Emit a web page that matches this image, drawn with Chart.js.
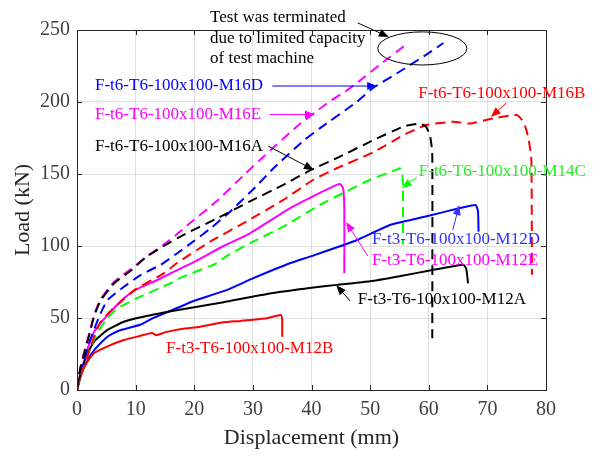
<!DOCTYPE html>
<html>
<head>
<meta charset="utf-8">
<script src="https://cdn.jsdelivr.net/npm/chart.js@4.4.1/dist/chart.umd.min.js"></script>
<style>
  html, body { margin: 0; padding: 0; background: #fff; }
</style>
</head>
<body>
<canvas id="myChart" width="593" height="459"></canvas>
<script>
// load-displacement curves (mm, kN)
const m16aX = [0, 0.5, 1.4, 2.2, 2.9, 4, 6.3, 9.2, 12, 14.8, 18.1, 23.8, 29.5, 35.2, 40, 44.3, 50.3, 55.7, 58.5, 59.5, 60.2, 60.6, 60.6];
const m16aY = [0, 14, 28, 40, 51, 62, 74, 83, 93, 100, 107.6, 119, 131, 142.5, 153, 161, 173, 183, 185, 183, 177, 165, 36];

const m16eX = [0, 0.5, 1.4, 2.2, 2.9, 4, 6.3, 9.2, 12, 14.8, 17, 19.3, 23.8, 28.4, 31.8, 37.5, 42.6, 46, 48.3, 52, 56.5];
const m16eY = [0, 14, 29, 41, 52, 63, 75, 84, 93, 101, 108, 116, 131, 149, 162, 183, 199, 208, 215, 227, 241];

const m16dX = [0, 0.5, 1, 2, 3, 4, 5.2, 8, 10.9, 14.3, 17.1, 19.8, 22.7, 26.1, 30.7, 33.5, 38.6, 41.4, 47.7, 50.5, 55, 60, 62.5];
const m16dY = [0, 10, 18, 32, 43, 53, 62.5, 71.7, 80, 87, 95, 103, 112, 123.8, 142, 154, 173, 181.7, 200, 209.7, 221, 234, 241];

const m16bX = [0, 0.5, 1, 2, 3, 4, 5.5, 7.4, 10, 14.8, 17, 22.7, 28.9, 35.2, 40.3, 44.3, 50.5, 55.7, 59.6, 64.2, 67, 71, 75, 76.2, 77, 77.5, 77.6];
const m16bY = [0, 8, 14, 26, 38, 47, 54, 61, 70, 81, 88, 103, 117, 132, 146, 154, 165, 177, 184, 186.3, 185, 188.6, 191, 186, 175, 160, 80];

const m14cX = [0, 0.5, 1, 2, 3, 4, 5.2, 7, 10.9, 15.9, 17.7, 23.8, 25.5, 29.5, 35.2, 41.4, 46, 50, 54.5, 55.1, 55.5, 55.6, 55.6];
const m14cY = [0, 8, 14, 26, 36, 43, 50, 57, 65, 74, 78, 88, 93, 102, 113.4, 128.5, 138, 146, 153, 154, 150, 140, 101];

const m12eX = [0, 0.5, 1, 2, 3, 5.2, 8, 10.2, 13.7, 17.7, 20, 25, 29.5, 36.3, 40, 44.3, 44.9, 45.4, 45.6, 45.6];
const m12eY = [0, 9, 17, 31, 41, 52, 63.7, 70, 76.4, 84.5, 89, 100, 108.8, 126.2, 134, 142.4, 143, 140, 125, 81];

const m12dX = [0, 0.5, 1, 2, 3, 5.2, 7, 10.9, 13, 17.7, 20, 25.5, 30, 36.3, 40, 47.7, 53.4, 60, 65, 68, 68.4, 68.5];
const m12dY = [0, 8, 14, 22, 28, 37, 41, 45.5, 50, 58, 62, 69.4, 77.5, 88, 93, 104, 114.6, 121, 126, 128.5, 124, 110];

const m12aX = [0, 0.5, 1, 2, 3, 5.2, 8, 10.9, 16.5, 20, 25, 32.9, 40, 44.3, 50, 55, 60.2, 65.9, 66.4, 66.6, 66.7];
const m12aY = [0, 10, 17, 27, 34, 41.7, 47.4, 50.5, 55, 57.5, 61, 67, 71, 73, 75.5, 79, 83, 87, 84, 78, 74];

const m12bX = [0, 0.5, 1, 2, 2.9, 4, 5.6, 8, 10.7, 12.8, 13.5, 15, 18, 21, 25, 28, 32.4, 34.8, 35, 35];
const m12bY = [0, 8, 14, 21, 25.5, 28, 31, 34.7, 37.5, 39.5, 38, 40, 42.5, 44, 47, 48, 49.8, 52, 48, 37];

const xTicks = [0, 10, 20, 30, 40, 50, 60, 70, 80];
const yTicks = [0, 50, 100, 150, 200, 250];

const serif = "'Liberation Serif', 'Times New Roman', serif";

function pts(xs, ys) {
  return xs.map((x, i) => ({ x: x, y: ys[i] }));
}

function series(label, xs, ys, color, dashed) {
  return {
    label: label,
    data: pts(xs, ys),
    borderColor: color,
    backgroundColor: color,
    borderWidth: 2,
    borderDash: dashed ? [10, 6] : [],
    pointRadius: 0,
    showLine: true,
    tension: 0.15,
    fill: false
  };
}

// labels and arrows, placed in data units
const notes = [
  { text: 'Test was terminated', x: 22.7, y: 258.7, color: '#000' },
  { text: 'due to limited capacity', x: 22.7, y: 244.3, color: '#000' },
  { text: 'of test machine', x: 22.7, y: 230, color: '#000' },
  { text: 'F-t6-T6-100x100-M16D', x: 3.07, y: 211.1, color: '#0000ff' },
  { text: 'F-t6-T6-100x100-M16E', x: 3.07, y: 191.3, color: '#ff00ff' },
  { text: 'F-t6-T6-100x100-M16A', x: 3.07, y: 169.4, color: '#000' },
  { text: 'F-t6-T6-100x100-M16B', x: 58.2, y: 206.2, color: '#ff0000' },
  { text: 'F-t6-T6-100x100-M14C', x: 58.3, y: 151.4, color: '#22ee22' },
  { text: 'F-t3-T6-100x100-M12D', x: 50.3, y: 104.2, color: '#3333ff' },
  { text: 'F-t3-T6-100x100-M12E', x: 50.3, y: 89.6, color: '#ff00ff' },
  { text: 'F-t3-T6-100x100-M12A', x: 47.9, y: 62.5, color: '#000' },
  { text: 'F-t3-T6-100x100-M12B', x: 15.2, y: 28.8, color: '#ff0000' }
];

const arrows = [
  { from: [47.9, 254.9], to: [53.2, 245.1], color: '#000' },
  { from: [33.3, 211.1], to: [51.2, 211.1], color: '#0000ff' },
  { from: [32.9, 191.3], to: [40.6, 191.3], color: '#ff00ff' },
  { from: [32.6, 169.4], to: [40.4, 152.8], color: '#000' },
  { from: [73.2, 199.3], to: [70.6, 189.6], color: '#ff0000' },
  { from: [58.0, 147.9], to: [55.4, 140.3], color: '#00ff00' },
  { from: [64.1, 111.1], to: [65.2, 128.5], color: '#3333ff' },
  { from: [49.6, 93.1], to: [45.9, 116.7], color: '#ff00ff' },
  { from: [46.6, 61.8], to: [44.2, 72.9], color: '#000' }
];

const ellipse = { x: 58.9, y: 237.2, rx: 7.6, ry: 11.5 };

const extras = {
  id: 'extras',
  afterDraw(chart) {
    const ctx = chart.ctx;
    const xs = chart.scales.x, ys = chart.scales.y;
    const a = chart.chartArea;
    ctx.save();

    // box with inward ticks
    ctx.strokeStyle = '#262626';
    ctx.lineWidth = 1;
    ctx.strokeRect(a.left + 0.5, a.top + 0.5, a.right - a.left, a.bottom - a.top);
    ctx.beginPath();
    xTicks.forEach(v => {
      const px = Math.round(xs.getPixelForValue(v)) + 0.5;
      ctx.moveTo(px, a.bottom); ctx.lineTo(px, a.bottom - 5);
      ctx.moveTo(px, a.top); ctx.lineTo(px, a.top + 5);
    });
    yTicks.forEach(v => {
      const py = Math.round(ys.getPixelForValue(v)) + 0.5;
      ctx.moveTo(a.left, py); ctx.lineTo(a.left + 5, py);
      ctx.moveTo(a.right, py); ctx.lineTo(a.right - 5, py);
    });
    ctx.stroke();

    // ellipse
    const cx = xs.getPixelForValue(ellipse.x), cy = ys.getPixelForValue(ellipse.y);
    const rx = xs.getPixelForValue(ellipse.x + ellipse.rx) - cx;
    const ry = cy - ys.getPixelForValue(ellipse.y + ellipse.ry);
    ctx.strokeStyle = '#000';
    ctx.beginPath();
    ctx.ellipse(cx, cy, rx, ry, 0, 0, Math.PI * 2);
    ctx.stroke();

    // arrows
    arrows.forEach(ar => {
      const x1 = xs.getPixelForValue(ar.from[0]), y1 = ys.getPixelForValue(ar.from[1]);
      const x2 = xs.getPixelForValue(ar.to[0]), y2 = ys.getPixelForValue(ar.to[1]);
      const ang = Math.atan2(y2 - y1, x2 - x1);
      ctx.strokeStyle = ar.color;
      ctx.fillStyle = ar.color;
      ctx.lineWidth = 1;
      ctx.beginPath();
      ctx.moveTo(x1, y1);
      ctx.lineTo(x2 - 6 * Math.cos(ang), y2 - 6 * Math.sin(ang));
      ctx.stroke();
      ctx.beginPath();
      ctx.moveTo(x2, y2);
      ctx.lineTo(x2 - 10 * Math.cos(ang) + 4 * Math.sin(ang), y2 - 10 * Math.sin(ang) - 4 * Math.cos(ang));
      ctx.lineTo(x2 - 10 * Math.cos(ang) - 4 * Math.sin(ang), y2 - 10 * Math.sin(ang) + 4 * Math.cos(ang));
      ctx.closePath();
      ctx.fill();
    });

    // text
    ctx.font = '17px ' + serif;
    ctx.textAlign = 'left';
    ctx.textBaseline = 'middle';
    notes.forEach(n => {
      ctx.fillStyle = n.color;
      ctx.fillText(n.text, xs.getPixelForValue(n.x), ys.getPixelForValue(n.y));
    });
    ctx.restore();
  }
};

new Chart(document.getElementById('myChart'), {
  type: 'scatter',
  data: {
    datasets: [
      series('F-t6-T6-100x100-M16A', m16aX, m16aY, '#000000', true),
      series('F-t6-T6-100x100-M16B', m16bX, m16bY, '#ff0000', true),
      series('F-t6-T6-100x100-M14C', m14cX, m14cY, '#00ff00', true),
      series('F-t6-T6-100x100-M16D', m16dX, m16dY, '#0000ff', true),
      series('F-t6-T6-100x100-M16E', m16eX, m16eY, '#ff00ff', true),
      series('F-t3-T6-100x100-M12A', m12aX, m12aY, '#000000', false),
      series('F-t3-T6-100x100-M12B', m12bX, m12bY, '#ff0000', false),
      series('F-t3-T6-100x100-M12D', m12dX, m12dY, '#0000ff', false),
      series('F-t3-T6-100x100-M12E', m12eX, m12eY, '#ff00ff', false)
    ]
  },
  options: {
    responsive: false,
    animation: false,
    layout: { padding: { top: 30, right: 47, left: 0, bottom: 0 } },
    plugins: { legend: { display: false }, tooltip: { enabled: false } },
    scales: {
      x: {
        type: 'linear',
        min: 0, max: 80,
        afterFit: s => { s.height = 69; },
        afterBuildTicks: s => { s.ticks = xTicks.map(v => ({ value: v })); },
        ticks: { font: { family: serif, size: 20 }, color: '#404040', padding: 8, maxRotation: 0 },
        grid: { color: 'rgba(0,0,0,0.12)', drawTicks: false },
        border: { display: false },
        title: { display: true, text: 'Displacement (mm)', font: { family: serif, size: 22 }, color: '#262626', padding: { top: 0, bottom: 8 } }
      },
      y: {
        type: 'linear',
        min: 0, max: 250,
        afterFit: s => { s.width = 77; },
        afterBuildTicks: s => { s.ticks = yTicks.map(v => ({ value: v })); },
        ticks: { font: { family: serif, size: 20 }, color: '#404040', padding: 7 },
        grid: { color: 'rgba(0,0,0,0.12)', drawTicks: false },
        border: { display: false },
        title: { display: true, text: 'Load (kN)', font: { family: serif, size: 22 }, color: '#262626', padding: { top: 10, bottom: 0 } }
      }
    }
  },
  plugins: [extras]
});
</script>
</body>
</html>
